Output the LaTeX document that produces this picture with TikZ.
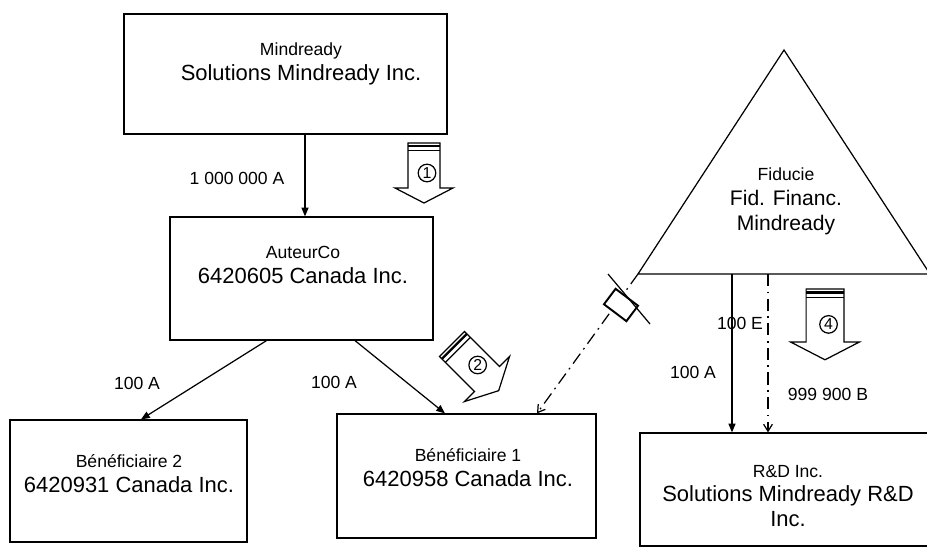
\documentclass[tikz,border=0pt]{standalone}
\usepackage{fontspec}
\setmainfont{Liberation Sans}
\usepackage{tikz}
\usetikzlibrary{arrows.meta}
\usetikzlibrary{calc}

\newcommand{\smalltitle}[1]{{\fontsize{10}{12}\selectfont #1}}

\begin{document}
\begin{tikzpicture}[x=0.02cm, y=-0.02cm, line width=0.7pt,
    box/.style={draw, rectangle, inner sep=0pt},
    title/.style={align=center, font=\fontsize{12.5}{14.2}\selectfont},
    qty/.style={font=\fontsize{10}{12}\selectfont},
    link/.style={-{Triangle[length=5pt,width=4pt]}},
    dashlink/.style={-{Straight Barb[length=4pt,width=5pt]}, dash pattern=on 7pt off 3pt on 1pt off 3pt},
    numcirc/.style={draw, circle, inner sep=0pt, minimum size=10pt, font=\fontsize{9}{10}\selectfont}]

      % Frame of the page
      \clip (0,0) rectangle (927,554);

      % Companies
      \node[box, minimum width=6.46cm, minimum height=2.4cm] (mind) at (285.5,74) {};
      \node[box, minimum width=5.26cm, minimum height=2.46cm] (aut) at (301.5,278.5) {};
      \node[box, minimum width=4.74cm, minimum height=2.44cm] (b2) at (128.5,481) {};
      \node[box, minimum width=5.18cm, minimum height=2.48cm] (b1) at (466.5,476) {};
      \node[box, minimum width=5.9cm, minimum height=2.26cm] (rd) at (787.5,489.5) {};

      \node[title] (mindtxt) at (301,64) {\smalltitle{Mindready}\\Solutions Mindready Inc.};
      \node[title] (auttxt) at (303,265) {\smalltitle{AuteurCo}\\6420605 Canada Inc.};
      \node[title] (b2txt) at (129,474) {\smalltitle{Bénéficiaire 2}\\6420931 Canada Inc.};
      \node[title] (b1txt) at (468,468) {\smalltitle{Bénéficiaire 1}\\6420958 Canada Inc.};
      \node[title] (rdtxt) at (788,496) {\smalltitle{R\&D Inc.}\\Solutions Mindready R\&D\\Inc.};

      % Trust
      \coordinate (apex) at (784,50);
      \coordinate (tl) at (638,274);
      \coordinate (tr) at (930,274);
      \draw (apex) -- (tr) -- (tl) -- cycle;
      \node[title, font=\fontsize{12}{14.2}\selectfont] (fidtxt) at (786,201) {\smalltitle{Fiducie}\\Fid. Financ.\\Mindready};
      \coordinate (fidA) at (732,274);
      \coordinate (fidB) at (768,274);

      % Shares
      \draw[link] ([xshift=0.39cm]mind.south) -- ([xshift=0.39cm]mind.south |- aut.north);
      \draw[link] ([xshift=-0.7cm]aut.south) -- ([xshift=0.25cm]b2.north);
      \draw[link] ([xshift=1.07cm]aut.south) -- ([xshift=-0.43cm]b1.north);
      \draw[link] (fidA) -- (fidA |- rd.north);
      \draw[dashlink] (fidB) -- (fidB |- rd.north);
      \draw[dashlink] (tl) -- ([xshift=1.41cm]b1.north);

      % Small tag on the dashed line
      \node[draw, fill=white, line width=1.1pt, rotate=-37, minimum width=16pt, minimum height=11pt, inner sep=0pt] (tag) at (621,305) {};
      \draw (608,274) -- (650,324);

      % Quantities
      \node[qty] (qmind) at (237,178) {1 000 000 A};
      \node[qty] (qb2) at (137,383) {100 A};
      \node[qty] (qb1) at (334,382) {100 A};
      \node[qty] (qrdA) at (693,372) {100 A};
      \node[qty] (qrdE) at (740,323) {100 E};
      \node[qty] (qrdB) at (828,394) {999 900 B};

      % Steps
      \foreach \px/\py/\rot/\sc/\num in {424/143/0/1/1, 452/344/45/1.1/2, 825/289/0/1.18/4} {
        \begin{scope}[shift={(\px,\py)}, rotate=\rot, scale=\sc]
          \draw[fill=white] (-16,0) -- (16,0) -- (16,45) -- (29,45) -- (0,60) -- (-29,45) -- (-16,45) -- cycle;
          \draw[line width=1.3pt] (-16,3) -- (16,3);
          \draw (-16,7.5) -- (16,7.5);
          \node[numcirc] (step\num) at (3,30) {\num};
        \end{scope}
      }
\end{tikzpicture}
\end{document}
